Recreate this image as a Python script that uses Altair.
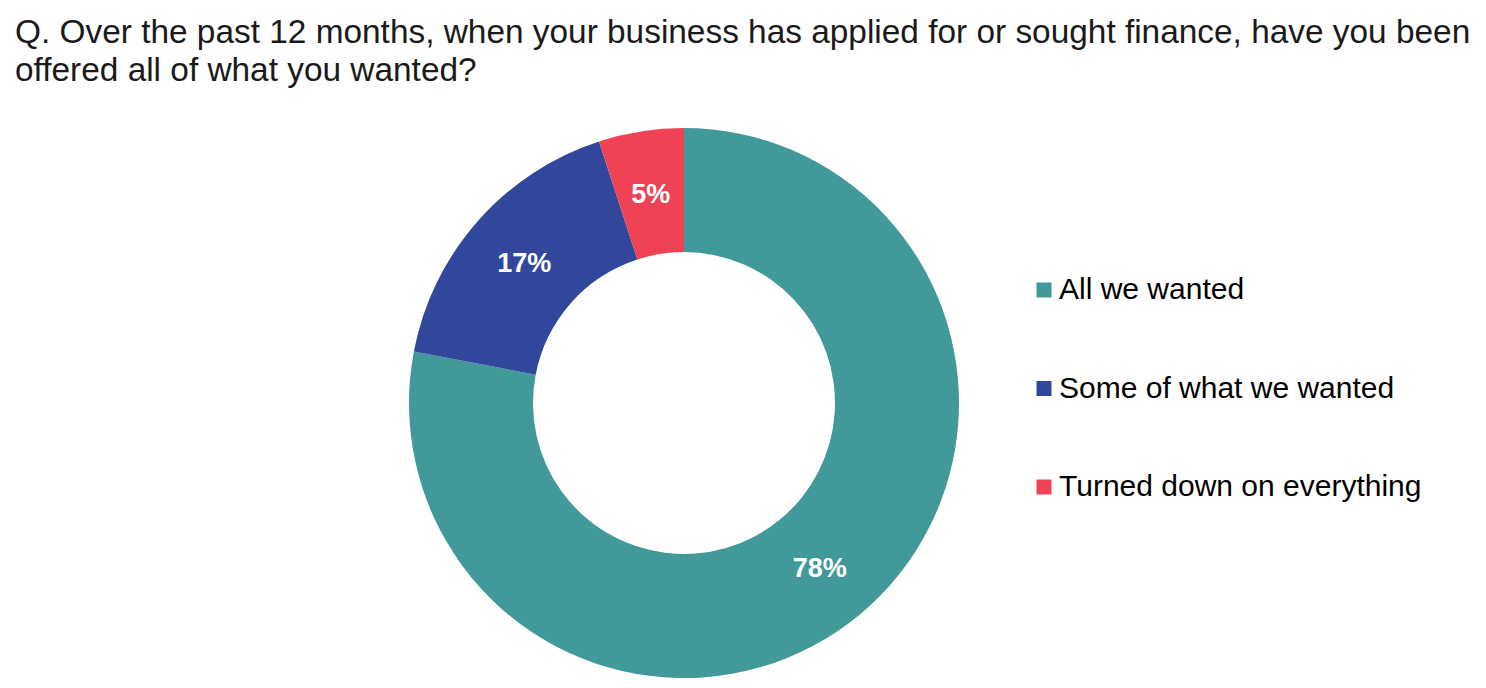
import altair as alt
import pandas as pd

categories = ["All we wanted", "Some of what we wanted", "Turned down on everything"]
values = [78, 17, 5]
labels = ["78%", "17%", "5%"]
colors = ["#41999A", "#30479B", "#EF4355"]

df = pd.DataFrame({
    "category": categories,
    "value": values,
    "label": labels,
    "order": list(range(len(categories))),
})

base = alt.Chart(df).encode(
    theta=alt.Theta("value:Q", stack=True),
    order=alt.Order("order:Q"),
)

arcs = base.mark_arc(innerRadius=151, outerRadius=275, stroke=None).encode(
    color=alt.Color(
        "category:N",
        sort=categories,
        scale=alt.Scale(domain=categories, range=colors),
        legend=alt.Legend(
            title=None,
            orient="none",
            legendX=1014,
            legendY=148,
            symbolType="square",
            symbolSize=225,
            symbolStrokeWidth=0,
            labelFontSize=30,
            labelFont="Liberation Sans",
            labelColor="#000000",
            labelOffset=0,
            rowPadding=68.5,
            labelLimit=600,
        ),
    )
)

text = base.mark_text(
    radius=213, font="Liberation Sans", fontSize=27, fontWeight="bold",
    color="white", align="center", baseline="middle", dy=2,
).encode(text="label:N")

chart = alt.layer(arcs, text).properties(
    width=1338,
    height=552,
    padding={"left": 7, "top": 8, "right": 0, "bottom": 0},
    title=alt.TitleParams(
        text=[
            "Q. Over the past 12 months, when your business has applied for or sought finance, have you been",
            "offered all of what you wanted?",
        ],
        anchor="start",
        font="Liberation Sans",
        fontSize=33.4,
        fontWeight="normal",
        color="#1a1a1a",
        lineHeight=38,
        offset=38.6,
    ),
).configure_view(stroke=None)

chart.save("out.html", embed_options={"renderer": "svg", "actions": False})
